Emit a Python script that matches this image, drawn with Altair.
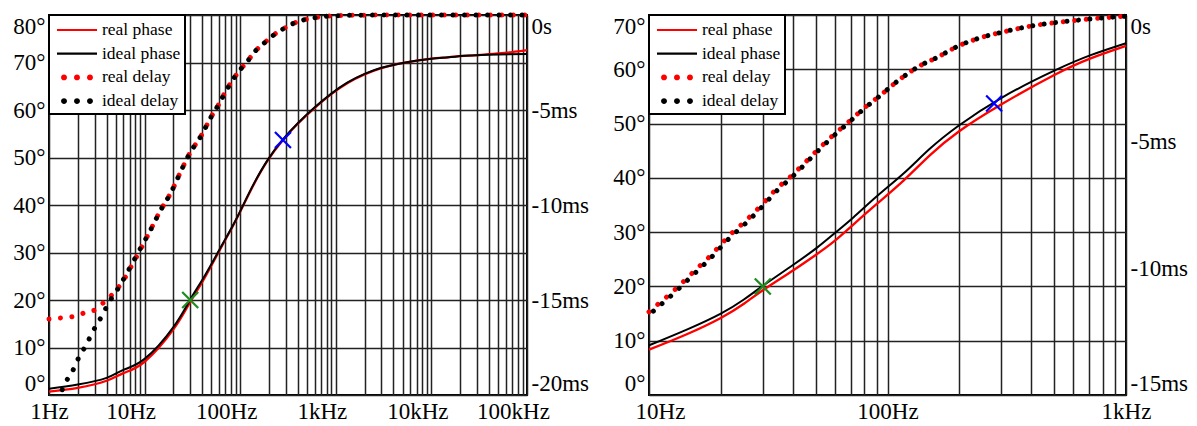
import altair as alt
import pandas as pd

RED = "#ff0000"
BLACK = "#000000"
GREEN = "#1e8c1e"
BLUE = "#0000ff"
FONT = "Liberation Serif"

# ---------------- left panel: 1 Hz .. 100 kHz ----------------
L_ph_ideal_f = [1, 2, 4, 6, 10, 20, 30, 42, 63, 86, 110, 140, 194, 280, 400, 590,
                890, 1330, 2000, 3000, 4450, 6600, 10000, 15000, 22000, 33000, 50000, 100000]
L_ph_ideal = [1.3, 2.2, 3.6, 5.3, 7.6, 14.3, 20.1, 24.9, 31.2, 36.1, 40.4, 44.6, 49.5, 53.8,
              57.2, 60.4, 63.4, 65.8, 67.6, 68.9, 69.7, 70.3, 70.8, 71.1, 71.4, 71.6, 71.7, 71.8]
L_ph_real_f = [1, 2, 4, 6, 10, 20, 30, 42, 63, 86, 110, 140, 194, 280, 400, 590,
               890, 1330, 2000, 3000, 4450, 6600, 10000, 15000, 22000, 33000, 50000, 70000, 100000]
L_ph_real = [0.7, 1.5, 3.0, 4.6, 7.0, 13.8, 19.6, 24.5, 31.0, 36.0, 40.3, 44.5, 49.4, 53.7,
             57.1, 60.3, 63.3, 65.7, 67.5, 68.8, 69.7, 70.3, 70.8, 71.1, 71.4, 71.6, 71.9, 72.2, 72.6]

L_dl_ideal_f = [1.3, 1.53, 1.76, 1.98, 2.32, 2.67, 3.08, 3.62, 4.15, 4.99, 5.87, 7.76, 9.12,
                11.15, 14.5, 18.8, 24.9, 29.2, 38.8, 50.1, 60.3, 69.2, 80, 95.3, 119.5, 140,
                171.6, 206, 246, 289, 340, 450, 596, 823, 1133, 2000, 5000, 100000]
L_dl_ideal = [-20.0, -19.24, -18.75, -18.18, -17.57, -16.99, -16.38, -15.8, -15.2, -14.59,
              -14.0, -12.9, -12.25, -11.46, -10.33, -9.36, -8.04, -7.34, -6.38, -5.33, -4.66,
              -4.09, -3.57, -3.01, -2.43, -1.96, -1.55, -1.2, -0.9, -0.7, -0.5, -0.27, -0.15,
              -0.06, -0.03, -0.01, 0.0, 0.0]
L_dl_real_f = [1.0, 1.33, 1.78, 2.38, 3.08, 3.6, 4.3, 5.0, 6.2, 7.3, 8.5, 11.15, 14.5, 18.8,
               24.9, 29.2, 38.8, 50.1, 60.3, 69.2, 80, 95.3, 119.5, 140, 171.6, 206, 246, 289,
               340, 450, 596, 823, 1133, 2000, 5000, 100000]
L_dl_real = [-16.0, -15.94, -15.87, -15.67, -15.5, -15.2, -14.85, -14.5, -13.85, -13.2, -12.6,
             -11.46, -10.33, -9.36, -8.04, -7.34, -6.38, -5.33, -4.66, -4.09, -3.57, -3.01,
             -2.43, -1.96, -1.55, -1.2, -0.9, -0.7, -0.5, -0.27, -0.15, -0.06, -0.03, -0.01,
             0.0, 0.0]

# ---------------- right panel: 10 Hz .. 1 kHz ----------------
R_ph_ideal_f = [10, 14.4, 20, 25, 30, 40, 50.5, 59.3, 71.9, 90.2, 116.7, 150, 198.5, 302, 498, 711, 1000]
R_ph_ideal = [9.15, 12.05, 15.0, 17.6, 20.1, 23.9, 27.1, 29.6, 32.7, 36.6, 40.8, 45.3, 49.6,
              54.8, 59.7, 62.6, 64.8]
R_ph_real_f = [10, 14.4, 20, 25, 30, 40, 50, 59.3, 71.9, 90.2, 116.7, 150, 198.5, 302, 498, 711, 1000]
R_ph_real = [8.36, 11.2, 14.2, 16.8, 19.3, 22.9, 25.8, 28.2, 31.4, 35.2, 39.5, 44.1, 48.5,
             53.6, 58.9, 62.0, 64.3]

R_dl_f = [10, 10.9, 12.82, 15.06, 18.15, 21.98, 25.65, 29.85, 34.3, 39, 44.4, 50, 58.7, 69.2,
          81.3, 90, 113, 137, 161, 198.5, 245, 302, 398, 498, 635, 808, 1000]
R_dl_ideal = [-11.84, -11.53, -10.95, -10.32, -9.59, -8.76, -8.19, -7.56, -6.94, -6.47, -5.95,
              -5.45, -4.82, -4.22, -3.63, -3.3, -2.53, -2.0, -1.68, -1.22, -0.9, -0.68, -0.44,
              -0.31, -0.2, -0.11, -0.05]
R_dl_real = [-11.72, -11.42, -10.85, -10.22, -9.49, -8.66, -8.09, -7.47, -6.86, -6.40, -5.89,
             -5.40, -4.78, -4.19, -3.61, -3.29, -2.53, -2.0, -1.68, -1.22, -0.9, -0.68, -0.44,
             -0.31, -0.2, -0.11, -0.05]

# markers (frequency, degrees)
MARK_F = [30, 280]
MARK_DEG = [20.0, 53.7]
MARK_COL = [GREEN, BLUE]

# axes
L_decades = [1, 10, 100, 1000, 10000, 100000]
L_decade_labels = ["1Hz", "10Hz", "100Hz", "1kHz", "10kHz", "100kHz"]
R_decades = [10, 100, 1000]
R_decade_labels = ["10Hz", "100Hz", "1kHz"]
MULT = [1, 2, 3, 4, 5, 6, 7, 8, 9]
L_deg_ticks = [0, 10, 20, 30, 40, 50, 60, 70, 80]
R_deg_ticks = [0, 10, 20, 30, 40, 50, 60, 70]
L_ms_ticks = [-20, -15, -10, -5, 0]
R_ms_ticks = [-15, -10, -5, 0]

LEGEND_NAMES = ["real phase", "ideal phase", "real delay", "ideal delay"]
LEGEND_COLORS = [RED, BLACK, RED, BLACK]
LINE_SYM = "M-1.82,-0.1H1.82V0.1H-1.82Z"
DOT_SYM = ("M-1.45,0a0.27,0.27 0 1,0 0.54,0a0.27,0.27 0 1,0 -0.54,0Z"
           "M-0.27,0a0.27,0.27 0 1,0 0.54,0a0.27,0.27 0 1,0 -0.54,0Z"
           "M0.91,0a0.27,0.27 0 1,0 0.54,0a0.27,0.27 0 1,0 -0.54,0Z")
LEGEND_SHAPES = [LINE_SYM, LINE_SYM, DOT_SYM, DOT_SYM]
X_SYM = "M-1,-1L1,1M-1,1L1,-1"


def frame(f, v):
    return pd.DataFrame({"f": f, "v": v})


def label_expr(vals, labels):
    expr = "''"
    for v, l in reversed(list(zip(vals, labels))):
        expr = f"datum.value == {v} ? '{l}' : ({expr})"
    return expr


def panel(fdom, decades, dec_labels, xoff_val, xoff_first, xoff_rest, deg_max, deg_ticks,
          ms_min, ms_ticks, ph_real, ph_ideal, dl_real, dl_ideal, width):
    xticks = sorted(set([m * d for d in decades[:-1] for m in MULT] + [decades[-1]]))
    xaxis = alt.Axis(values=xticks, labelExpr=label_expr(decades, dec_labels), grid=True,
                     ticks=False, domain=False, title=None, labelFlush=False, labelPadding=5,
                     labelOffset={"condition": {"test": f"datum.value == {xoff_val}",
                                                "value": xoff_first}, "value": xoff_rest})
    x = alt.X("f:Q", scale=alt.Scale(type="log", domain=fdom), axis=xaxis)
    yaxis = alt.Axis(values=deg_ticks, labelExpr="datum.value + '°'", grid=True, ticks=False,
                     domain=False, title=None, labelFlush=True, labelPadding=4,
                     minExtent=43, maxExtent=43)
    y = alt.Y("v:Q", scale=alt.Scale(domain=[0, deg_max]), axis=yaxis)
    y2axis = alt.Axis(values=ms_ticks, orient="right", grid=False, ticks=False, domain=False,
                      title=None, labelFlush=True, labelPadding=4, minExtent=65, maxExtent=65,
                      labelExpr="datum.value == 0 ? '0s' : '-' + abs(datum.value) + 'ms'")
    y2 = alt.Y("v:Q", scale=alt.Scale(domain=[ms_min, 0]), axis=y2axis)

    red_ph = alt.Chart(ph_real).mark_line(color=RED, strokeWidth=2.3, interpolate="natural").encode(x=x, y=y)
    blk_ph = alt.Chart(ph_ideal).mark_line(color=BLACK, strokeWidth=2, interpolate="natural").encode(x=x, y=y)
    mk = pd.DataFrame({"f": MARK_F, "v": MARK_DEG, "c": MARK_COL})
    marks = alt.Chart(mk).mark_point(shape=X_SYM, size=256, strokeWidth=2.2, filled=False,
                                     opacity=1).encode(x=x, y=y, color=alt.Color("c:N", scale=None))
    lg = alt.Legend(title=None, orient="top-left", offset=0, padding=4, fillColor="white",
                    strokeColor="black", symbolStrokeWidth=0, symbolOpacity=1, symbolSize=484,
                    symbolOffset=13, labelOffset=14, rowPadding=3.7, labelFont=FONT,
                    labelFontSize=17.5, labelColor="black", labelLimit=300,
                    labelExpr="datum.label + '\u00a0\u00a0'")
    phantom = alt.Chart(pd.DataFrame({"series": LEGEND_NAMES})).mark_point(
        filled=True, opacity=1, size=484).transform_filter("false").encode(
        color=alt.Color("series:N", scale=alt.Scale(domain=LEGEND_NAMES, range=LEGEND_COLORS), legend=lg),
        shape=alt.Shape("series:N", scale=alt.Scale(domain=LEGEND_NAMES, range=LEGEND_SHAPES), legend=lg),
    )
    phase_group = alt.layer(red_ph, blk_ph, marks, phantom)

    red_dl = alt.Chart(dl_real).mark_line(color=RED, strokeWidth=5, strokeCap="round",
                                          strokeDash=[0.01, 11.5], interpolate="monotone").encode(x=x, y=y2)
    blk_dl = alt.Chart(dl_ideal).mark_line(color=BLACK, strokeWidth=5, strokeCap="round",
                                           strokeDash=[0.01, 11.5], strokeDashOffset=5.75,
                                           interpolate="monotone").encode(x=x, y=y2)
    delay_group = alt.layer(red_dl, blk_dl)
    return alt.layer(phase_group, delay_group).resolve_scale(y="independent").properties(
        width=width, height=380)


left = panel([1, 100000], L_decades, L_decade_labels, 1, 0, -14, 80, L_deg_ticks, -20, L_ms_ticks,
             frame(L_ph_real_f, L_ph_real), frame(L_ph_ideal_f, L_ph_ideal),
             frame(L_dl_real_f, L_dl_real), frame(L_dl_ideal_f, L_dl_ideal), 478)
right = panel([10, 1000], R_decades, R_decade_labels, 10, 11, 0, 70, R_deg_ticks, -15, R_ms_ticks,
              frame(R_ph_real_f, R_ph_real), frame(R_ph_ideal_f, R_ph_ideal),
              frame(R_dl_f, R_dl_real), frame(R_dl_f, R_dl_ideal), 477)

chart = alt.hconcat(left, right, spacing=12).resolve_scale(
    color="independent", shape="independent").resolve_legend(
    color="independent", shape="independent").properties(
    padding={"left": 5, "top": 4, "right": 5, "bottom": 0},
    background="white",
).configure_view(stroke="black", strokeWidth=2).configure_axis(
    labelFont=FONT, labelFontSize=23, labelColor="black", gridColor="#222222",
    gridWidth=1.5, gridOpacity=1).configure_legend(strokeWidth=2)

chart.save("out.html", embed_options={"renderer": "svg", "actions": False})
